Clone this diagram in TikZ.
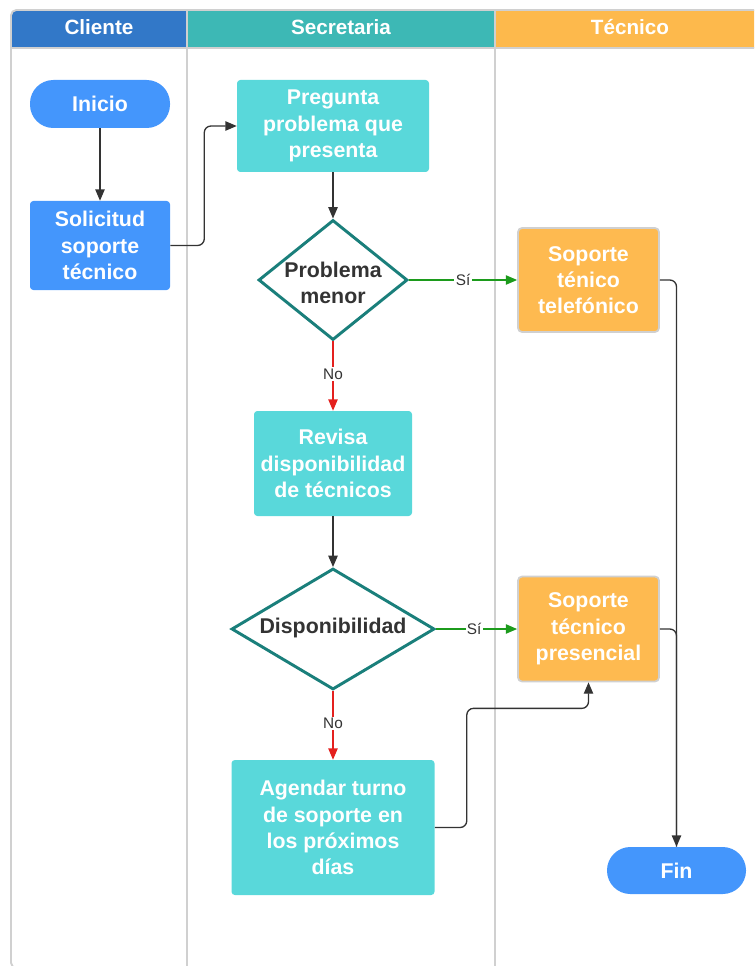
\documentclass[tikz,border=0pt]{standalone}
\usepackage{fontspec}
\setmainfont{Liberation Sans}
\usetikzlibrary{shapes.geometric,arrows.meta,calc}
\definecolor{hblue}{RGB}{50,120,200}
\definecolor{hteal}{RGB}{61,184,181}
\definecolor{horange}{RGB}{253,185,76}
\definecolor{nblue}{RGB}{68,150,252}
\definecolor{ncyan}{RGB}{89,216,218}
\definecolor{norange}{RGB}{254,186,80}
\definecolor{dteal}{RGB}{26,127,123}
\definecolor{lgreen}{RGB}{28,155,28}
\definecolor{lred}{RGB}{228,32,30}
\definecolor{ldark}{RGB}{51,51,51}
\definecolor{lanec}{RGB}{208,208,208}
\tikzset{
  ntext/.style={text=white, font=\bfseries\fontsize{16pt}{19.7pt}\selectfont, align=center, inner sep=0pt},
  boxblue/.style={ntext, fill=nblue, rounded corners=2.5pt},
  boxcyan/.style={ntext, fill=ncyan, rounded corners=2.5pt},
  boxorange/.style={ntext, fill=norange, draw=lanec, line width=1.3pt, rounded corners=3pt},
  stadium/.style={ntext, fill=nblue, rounded corners=17.5pt},
  decision/.style={diamond, draw=dteal, fill=white, line width=2.2pt, inner sep=0pt},
  dtext/.style={text=ldark, font=\bfseries\fontsize{16pt}{19.7pt}\selectfont, align=center, inner sep=0pt},
  htext/.style={text=white, font=\bfseries\fontsize{15.5pt}{18pt}\selectfont, inner sep=0pt},
  tip/.style={-{Triangle[length=8.5pt,width=7pt]}},
  conn/.style={draw=ldark, line width=1pt, tip},
  yes/.style={draw=lgreen, line width=1pt, tip},
  no/.style={draw=lred, line width=1pt, tip},
  elabel/.style={fill=white, text=ldark, font=\fontsize{11.5pt}{13pt}\selectfont, inner sep=1pt},
}
\begin{document}
\begin{tikzpicture}[x=0.75pt,y=-0.75pt]
\useasboundingbox (0,0) rectangle (754,966);
\begin{scope}
\clip (0,0) rectangle (754,966);
% header fills
\fill[hblue] (11,48) [rounded corners=4pt] -- (11,10) [sharp corners] -- (187,10) -- (187,48) -- cycle;
\fill[hteal] (187,10) rectangle (495,48);
\fill[horange] (495,10) rectangle (800,48);
% frame and lanes
\draw[lanec, line width=1.4pt, rounded corners=4pt] (11,10) rectangle (800,968);
\draw[lanec, line width=1.4pt] (11,48) -- (800,48);
\draw[lanec, line width=1.4pt] (187,10) -- (187,968);
\draw[lanec, line width=1.4pt] (495,10) -- (495,968);
\end{scope}
\node[htext] (h1) at (99,27) {Cliente};
\node[htext] (h2) at (341,27) {Secretaria};
\node[htext] (h3) at (630,27) {Técnico};
% nodes
\node[stadium, minimum width=105pt, minimum height=36pt] (ini) at (100,104) {Inicio};
\node[boxblue, minimum width=105pt, minimum height=66.75pt] (sol) at (100,245.5) {Solicitud\\soporte\\técnico};
\node[boxcyan, minimum width=144pt, minimum height=69pt] (preg) at (333,126) {Pregunta\\problema que\\presenta};
\node[decision, minimum width=111.75pt, minimum height=90pt] (d1) at (333,280) {};
\node[dtext] (d1t) at (333,283) {Problema\\menor};
\node[boxorange, minimum width=105.75pt, minimum height=78pt] (tel) at (588.5,280) {Soporte\\ténico\\telefónico};
\node[boxcyan, minimum width=118.5pt, minimum height=78.75pt] (rev) at (333,463.5) {Revisa\\disponibilidad\\de técnicos};
\node[decision, minimum width=152.25pt, minimum height=90.75pt] (d2) at (333,629) {};
\node[dtext] (d2t) at (333,627.5) {Disponibilidad};
\node[boxorange, minimum width=105.75pt, minimum height=78.75pt] (pres) at (588.5,629) {Soporte\\técnico\\presencial};
\node[boxcyan, minimum width=152.25pt, minimum height=101.25pt] (ag) at (333,827.5) {Agendar turno\\de soporte en\\los próximos\\días};
\node[stadium, minimum width=104.25pt, minimum height=35.25pt] (fin) at (676.5,870.5) {Fin};
% connectors
\draw[conn] (ini) -- (sol);
\draw[conn, rounded corners=5pt] (sol.east) -- ++(34,0) |- (preg.west);
\draw[conn] (preg) -- (d1);
\draw[yes] (d1.east) -- node[elabel, pos=0.5] (s1) {Sí} (tel.west);
\draw[no] (d1.south) -- node[elabel, pos=0.47] (n1) {No} (rev.north);
\draw[conn] (rev) -- (d2);
\draw[yes] (d2.east) -- node[elabel, pos=0.47] (s2) {Sí} (pres.west);
\draw[no] (d2.south) -- node[elabel, pos=0.47] (n2) {No} (ag.north);
\draw[conn, rounded corners=5pt] (ag.east) -- ++(32,0) |- ($(pres.south)+(0,26)$) -- (pres.south);
\draw[conn, rounded corners=5pt] (tel.east) -| (fin.north);
\draw[draw=ldark, line width=1pt, rounded corners=5pt] (pres.east) -| (fin.north);
\end{tikzpicture}
\end{document}
